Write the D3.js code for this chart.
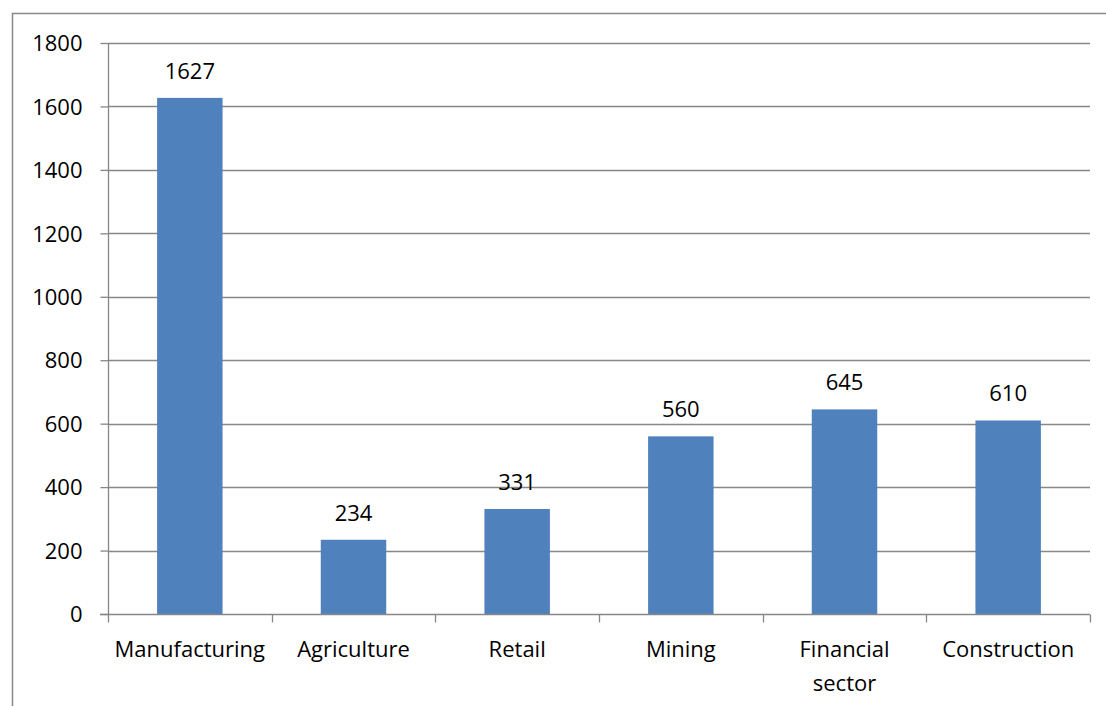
<!DOCTYPE html>
<html>
<head>
<meta charset="utf-8">
<script src="https://cdn.jsdelivr.net/npm/d3@7"></script>
<style>
  html, body { margin: 0; padding: 0; background: #fff; }
  svg { display: block; }
  text { font-family: "Open Sans", "Noto Sans", sans-serif; fill: #000; }
</style>
</head>
<body>
<svg id="chart" width="1106" height="706"></svg>
<script>
// Employment by sector
const categories = ["Manufacturing", "Agriculture", "Retail", "Mining", "Financial sector", "Construction"];
const values = [1627, 234, 331, 560, 645, 610];
const yTicks = [0, 200, 400, 600, 800, 1000, 1200, 1400, 1600, 1800];

const W = 1106, H = 706;
const FONT = "22px";
const plot = { left: 108, right: 1090, top: 43, bottom: 614 };
const svg = d3.select("#chart");

// outer frame (left and top edges visible)
svg.append("path")
  .attr("d", `M12.5,${H} V13.5 H${W}`)
  .attr("fill", "none").attr("stroke", "#898989").attr("stroke-width", 1.5);

const x = d3.scaleBand().domain(categories).range([plot.left, plot.right]).paddingInner(0.6).paddingOuter(0.3);
const xCat = d3.scaleBand().domain(categories).range([plot.left, plot.right]);
const y = d3.scaleLinear().domain([0, 1800]).range([plot.bottom, plot.top]);

// gridlines
svg.append("g").selectAll("line").data(yTicks.filter(d => d > 0)).join("line")
  .attr("x1", plot.left).attr("x2", plot.right)
  .attr("y1", d => Math.round(y(d)) + 0.5).attr("y2", d => Math.round(y(d)) + 0.5)
  .attr("stroke", "#878787").attr("stroke-width", 1.3);

// bars
svg.append("g").selectAll("rect").data(values).join("rect")
  .attr("x", (d, i) => x(categories[i]))
  .attr("width", x.bandwidth())
  .attr("y", d => y(d))
  .attr("height", d => y(0) - y(d))
  .attr("fill", "#4F81BD");

// y axis
const yAxis = svg.append("g").attr("transform", `translate(${plot.left + 0.5},0)`)
  .call(d3.axisLeft(y).tickValues(yTicks).tickSize(8).tickPadding(18).tickFormat(d3.format("d")));
yAxis.select(".domain").attr("stroke", "#878787").attr("stroke-width", 1.3).attr("d", `M0,${plot.top}V${plot.bottom}`);
yAxis.selectAll(".tick line").attr("stroke", "#878787").attr("stroke-width", 1.3);
yAxis.selectAll(".tick text").style("font-size", FONT).attr("dy", "0.35em");

// x axis with ticks on category boundaries
const xg = svg.append("g").attr("transform", `translate(0,${Math.round(plot.bottom) + 0.5})`);
xg.append("line").attr("x1", plot.left - 8).attr("x2", plot.right)
  .attr("stroke", "#878787").attr("stroke-width", 1.3);
const bounds = categories.map(c => xCat(c)).concat([plot.right]);
xg.selectAll("line.tk").data(bounds).join("line").attr("class", "tk")
  .attr("x1", d => Math.round(d) + 0.5).attr("x2", d => Math.round(d) + 0.5)
  .attr("y1", 0).attr("y2", 8)
  .attr("stroke", "#878787").attr("stroke-width", 1.3);

// category labels (wrapped to two lines where needed)
const labels = xg.selectAll("text.cat").data(categories).join("text").attr("class", "cat")
  .attr("text-anchor", "middle")
  .attr("x", d => xCat(d) + xCat.bandwidth() / 2)
  .style("font-size", FONT);
labels.each(function(d) {
  const t = d3.select(this);
  const words = d === "Financial sector" ? ["Financial", "sector"] : [d];
  words.forEach((w, k) => {
    t.append("tspan").attr("x", xCat(d) + xCat.bandwidth() / 2).attr("y", 42 + k * 34).text(w);
  });
});

// value labels
svg.append("g").selectAll("text").data(values).join("text")
  .attr("text-anchor", "middle")
  .attr("x", (d, i) => x(categories[i]) + x.bandwidth() / 2)
  .attr("y", d => y(d) - 19)
  .style("font-size", FONT)
  .text(d => d);
</script>
</body>
</html>
